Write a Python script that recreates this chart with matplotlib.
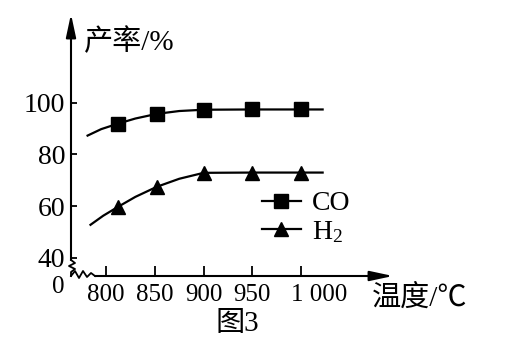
import matplotlib
matplotlib.use("Agg")
import matplotlib.pyplot as plt
from matplotlib.lines import Line2D
from matplotlib.transforms import ScaledTranslation

plt.rcParams['font.family'] = ['Liberation Serif', 'Noto Sans CJK SC']
plt.rcParams['mathtext.fontset'] = 'custom'
plt.rcParams['mathtext.rm'] = 'Liberation Serif'

# marker points
temp_pts = [812, 852, 900, 950, 1000]
co_pts = [91.9, 95.7, 97.3, 97.4, 97.4]
h2_pts = [59.7, 67.5, 72.9, 73.0, 73.0]

# points along the smooth trend curves
co_curve_x = [781, 795, 812, 830, 852, 875, 900, 950, 1000, 1022]
co_curve_y = [87.3, 89.8, 91.9, 93.9, 95.7, 96.8, 97.3, 97.4, 97.4, 97.4]
h2_curve_x = [784, 797, 812, 830, 852, 875, 900, 950, 1000, 1022]
h2_curve_y = [52.8, 56.3, 59.7, 63.6, 67.5, 70.6, 72.9, 73.0, 73.0, 73.0]

xticks = [800, 850, 900, 950, 1000]
xticklabels = ['800', '850', '900', '950', '1 000']
yticks = [40, 60, 80, 100]

W, H = 508, 357
fig = plt.figure(figsize=(W / 100, H / 100), dpi=100)
ax = fig.add_axes([71 / W, 1 - 276 / H, (387 - 71) / W, (276 - 20) / H])
ax.set_xlim(764, 1088)
ax.set_ylim(33, 132)
for s in ax.spines.values():
    s.set_visible(False)


def fp(px, py):
    return px / W, 1 - py / H


# curves and markers
ax.plot(co_curve_x, co_curve_y, color='k', lw=1.6)
ax.plot(h2_curve_x, h2_curve_y, color='k', lw=1.6)
ax.plot(temp_pts, co_pts, ls='none', marker='s', ms=9.5, color='k')
ax.plot(temp_pts, h2_pts, ls='none', marker='^', ms=10.5, color='k')

# ticks
ax.set_xticks(xticks)
ax.set_xticklabels(xticklabels)
ax.set_yticks(yticks)
ax.tick_params(axis='x', direction='in', length=7, width=1.3, pad=6, labelsize=18)
ax.tick_params(axis='y', direction='in', length=4, width=1.3, pad=4, labelsize=20)
# "1 000" sits with its "1" just left of the tick
last = ax.get_xticklabels()[-1]
last.set_ha('left')
last.set_transform(last.get_transform() + ScaledTranslation(-10 / 100, 0, fig.dpi_scale_trans))

# axis lines with arrows
ax.annotate('', xy=fp(71, 14), xytext=fp(71, 260), xycoords='figure fraction',
            textcoords='figure fraction',
            arrowprops=dict(arrowstyle='-|>,head_length=1.4,head_width=0.3',
                            lw=1.5, color='k', shrinkA=0, shrinkB=0,
                            mutation_scale=10))
ax.annotate('', xy=fp(393, 276), xytext=fp(95, 276), xycoords='figure fraction',
            textcoords='figure fraction',
            arrowprops=dict(arrowstyle='-|>,head_length=1.4,head_width=0.3',
                            lw=1.5, color='k', shrinkA=0, shrinkB=0,
                            mutation_scale=10))

# axis breaks
zig = [(71, 260), (75, 263), (69, 266), (75, 269), (71, 272), (71, 276)]
wave = [(71, 276), (75, 271), (79, 278), (83, 271), (87, 277), (91, 273), (95, 276)]
for pts in (zig, wave):
    xs = [fp(x, y)[0] for x, y in pts]
    ys = [fp(x, y)[1] for x, y in pts]
    fig.add_artist(Line2D(xs, ys, transform=fig.transFigure, color='k', lw=1.3))

# texts
fig.text(*fp(58, 287), '0', fontsize=18, ha='center', va='center')
fig.text(*fp(84, 42), '产率/%', fontsize=21, ha='left', va='center')
fig.text(*fp(372, 298), '温度/℃', fontsize=21, ha='left', va='center')
fig.text(*fp(237, 324), '图3', fontsize=21, ha='center', va='center')

# legend
handles = [Line2D([], [], color='k', lw=1.6, marker='s', ms=9.5),
           Line2D([], [], color='k', lw=1.6, marker='^', ms=10.5)]
ax.legend(handles, ['CO', r'$\mathregular{H_2}$'], loc='center left',
          bbox_to_anchor=fp(262, 218), bbox_transform=fig.transFigure,
          frameon=False, fontsize=20, handlelength=1.4, handletextpad=0.4,
          labelspacing=0.1, borderpad=0, borderaxespad=0)

fig.savefig('out.png', dpi=100)
